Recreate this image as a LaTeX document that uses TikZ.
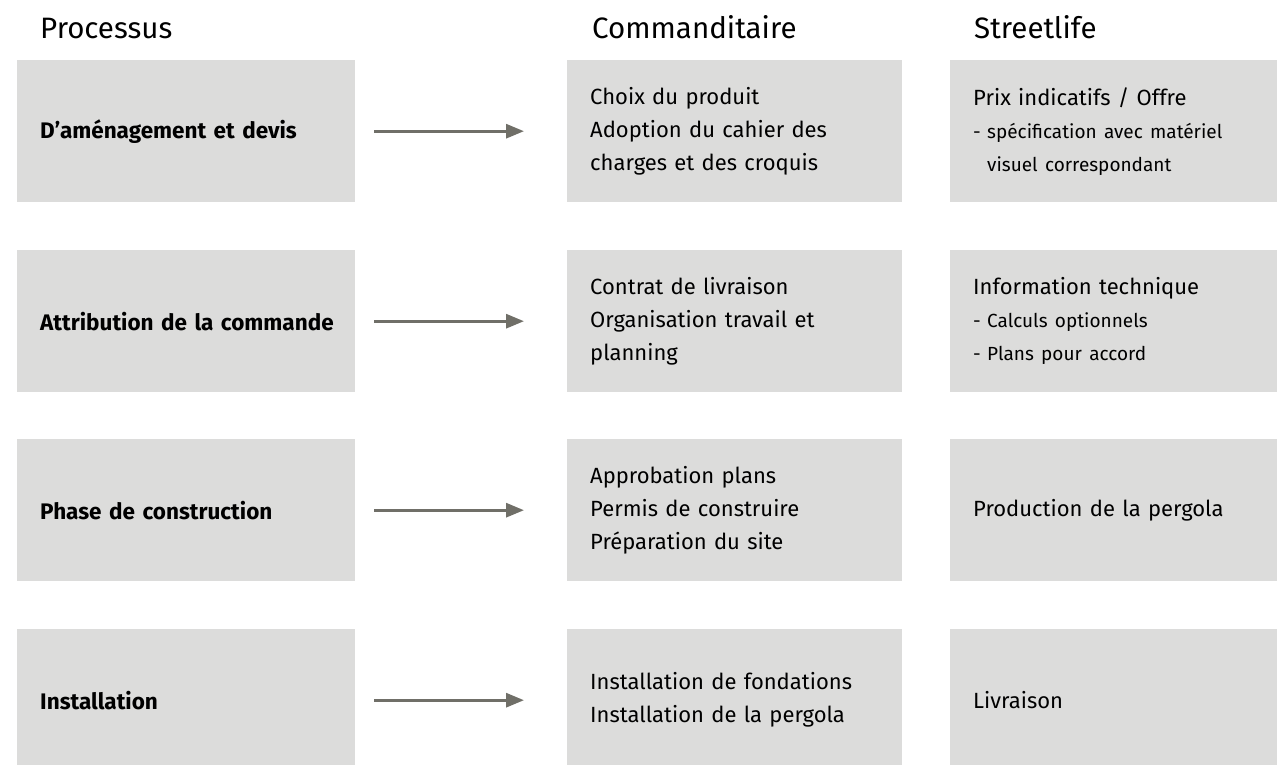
\documentclass[tikz,border=0pt]{standalone}
\usepackage{fontspec}
\setmainfont{Fira Sans}
\usepackage{xcolor}
\usepackage{tikz}
\usetikzlibrary{arrows.meta}
\usetikzlibrary{positioning}
\definecolor{cellgray}{HTML}{DCDCDB}
\definecolor{flowgray}{HTML}{706F68}
\newcommand{\subline}[1]{{\fontsize{19}{33}\selectfont\makebox[14pt][l]{-}#1}}
\newcommand{\subcont}[1]{{\fontsize{19}{33}\selectfont\hspace*{14pt}#1}}

\begin{document}
\begin{tikzpicture}[x=1pt,y=-1pt,
  cell/.style={anchor=north west,fill=cellgray,minimum height=142pt,inner xsep=23pt,inner ysep=0pt,align=left,font=\fontsize{22}{33}\selectfont},
  stage/.style={cell,text width=292pt,font=\fontsize{22.5}{33}\selectfont\bfseries},
  client/.style={cell,text width=289pt},
  supplier/.style={cell,text width=290pt},
  head/.style={anchor=base west,inner sep=0pt,font=\fontsize{29.5}{34}\selectfont},
  flow/.style={draw=flowgray,line width=3pt,-{Triangle[length=18pt,width=14pt]},shorten <=19pt,shorten >=43pt}]
\useasboundingbox (0,0) rectangle (1277,765);
\node[head] (hproc) at (40,39) {Processus};
\node[head] (hclient) at (592,39) {Commanditaire};
\node[head] (hsupp) at (974,39) {Streetlife};

\node[stage] (p1) at (17,60) {\mbox{D’aménagement et devis}};
\node[client] (c1) at (567,60) {Choix du produit\\Adoption du cahier des\\charges et des croquis};
\node[supplier] (s1) at (950,60) {Prix indicatifs / Offre\\\subline{spécification avec matériel}\\\subcont{visuel correspondant}};

\node[stage] (p2) at (17,250) {\mbox{Attribution de la commande}};
\node[client] (c2) at (567,250) {Contrat de livraison\\Organisation travail et\\planning};
\node[supplier] (s2) at (950,250) {Information technique\\\subline{Calculs optionnels}\\\subline{Plans pour accord}};

\node[stage] (p3) at (17,439) {\mbox{Phase de construction}};
\node[client] (c3) at (567,439) {Approbation plans\\Permis de construire\\Préparation du site};
\node[supplier] (s3) at (950,439) {Production de la pergola};

\node[stage] (p4) at (17,629) {\mbox{Installation}};
\node[client] (c4) at (567,629) {Installation de fondations\\Installation de la pergola};
\node[supplier] (s4) at (950,629) {Livraison};

\draw[flow] (p1.east) -- (c1.west);
\draw[flow] (p2.east) -- (c2.west);
\draw[flow] (p3.east) -- (c3.west);
\draw[flow] (p4.east) -- (c4.west);
\end{tikzpicture}
\end{document}
